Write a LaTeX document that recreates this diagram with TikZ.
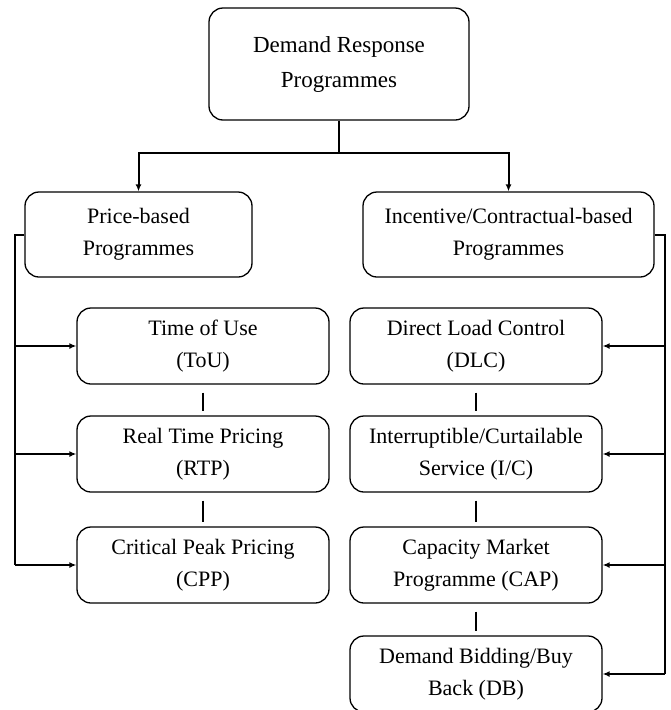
\documentclass[tikz,border=0pt]{standalone}
\usepackage{fontspec}
\setmainfont{Liberation Serif}
\usetikzlibrary{positioning,arrows.meta}

\begin{document}
\begin{tikzpicture}[x=1pt,y=-1pt,
    box/.style={draw, line width=1.3pt, rounded corners=14pt, align=center, inner sep=0pt,
      font=\fontsize{22}{32}\selectfont},
    link/.style={-{Latex[length=7pt,width=6pt]}, line width=2pt},
    rail/.style={line width=2pt},
    gapline/.style={line width=2pt, shorten <=8pt, shorten >=4pt}]
      \useasboundingbox (0,0) rectangle (670,710);
      \node[box, minimum width=260pt, minimum height=112pt, font=\fontsize{23}{35}\selectfont] (drp) at (339,64) {Demand Response\\Programmes};
      \node[box, minimum width=227pt, minimum height=85pt] (price) at (138.5,234.5) {Price-based\\Programmes};
      \node[box, minimum width=291pt, minimum height=85pt] (incent) at (508.5,234.5) {Incentive/Contractual-based\\Programmes};
      \node[box, minimum width=252pt, minimum height=76pt] (tou) at (203,346) {Time of Use\\(ToU)};
      \node[box, minimum width=252pt, minimum height=76pt] (rtp) at (203,454) {Real Time Pricing\\(RTP)};
      \node[box, minimum width=252pt, minimum height=76pt] (cpp) at (203,565) {Critical Peak Pricing\\(CPP)};
      \node[box, minimum width=252pt, minimum height=76pt] (dlc) at (476,346) {Direct Load Control\\(DLC)};
      \node[box, minimum width=252pt, minimum height=76pt] (ic) at (476,454) {Interruptible/Curtailable\\Service (I/C)};
      \node[box, minimum width=252pt, minimum height=76pt] (cap) at (476,565) {Capacity Market\\Programme (CAP)};
      \node[box, minimum width=252pt, minimum height=76pt] (db) at (476,674) {Demand Bidding/Buy\\Back (DB)};
      \draw[rail] (drp.south) -- ++(0,32) coordinate (split);
      \draw[link] (split) -| (price.north);
      \draw[link] (split) -| (incent.north);
      \draw[rail] (price.west) -- ++(-9,0) coordinate (lrail) -- (lrail |- cpp.west);
      \foreach \n in {tou,rtp,cpp}
        \draw[link] (lrail |- \n.west) -- (\n.west);
      \draw[rail] (incent.east) -- ++(10,0) coordinate (rrail) -- (rrail |- db.east);
      \foreach \n in {dlc,ic,cap,db}
        \draw[link] (rrail |- \n.east) -- (\n.east);
      \draw[gapline] (tou) -- (rtp);
      \draw[gapline] (rtp) -- (cpp);
      \draw[gapline] (dlc) -- (ic);
      \draw[gapline] (ic) -- (cap);
      \draw[gapline] (cap) -- (db);
\end{tikzpicture}
\end{document}
